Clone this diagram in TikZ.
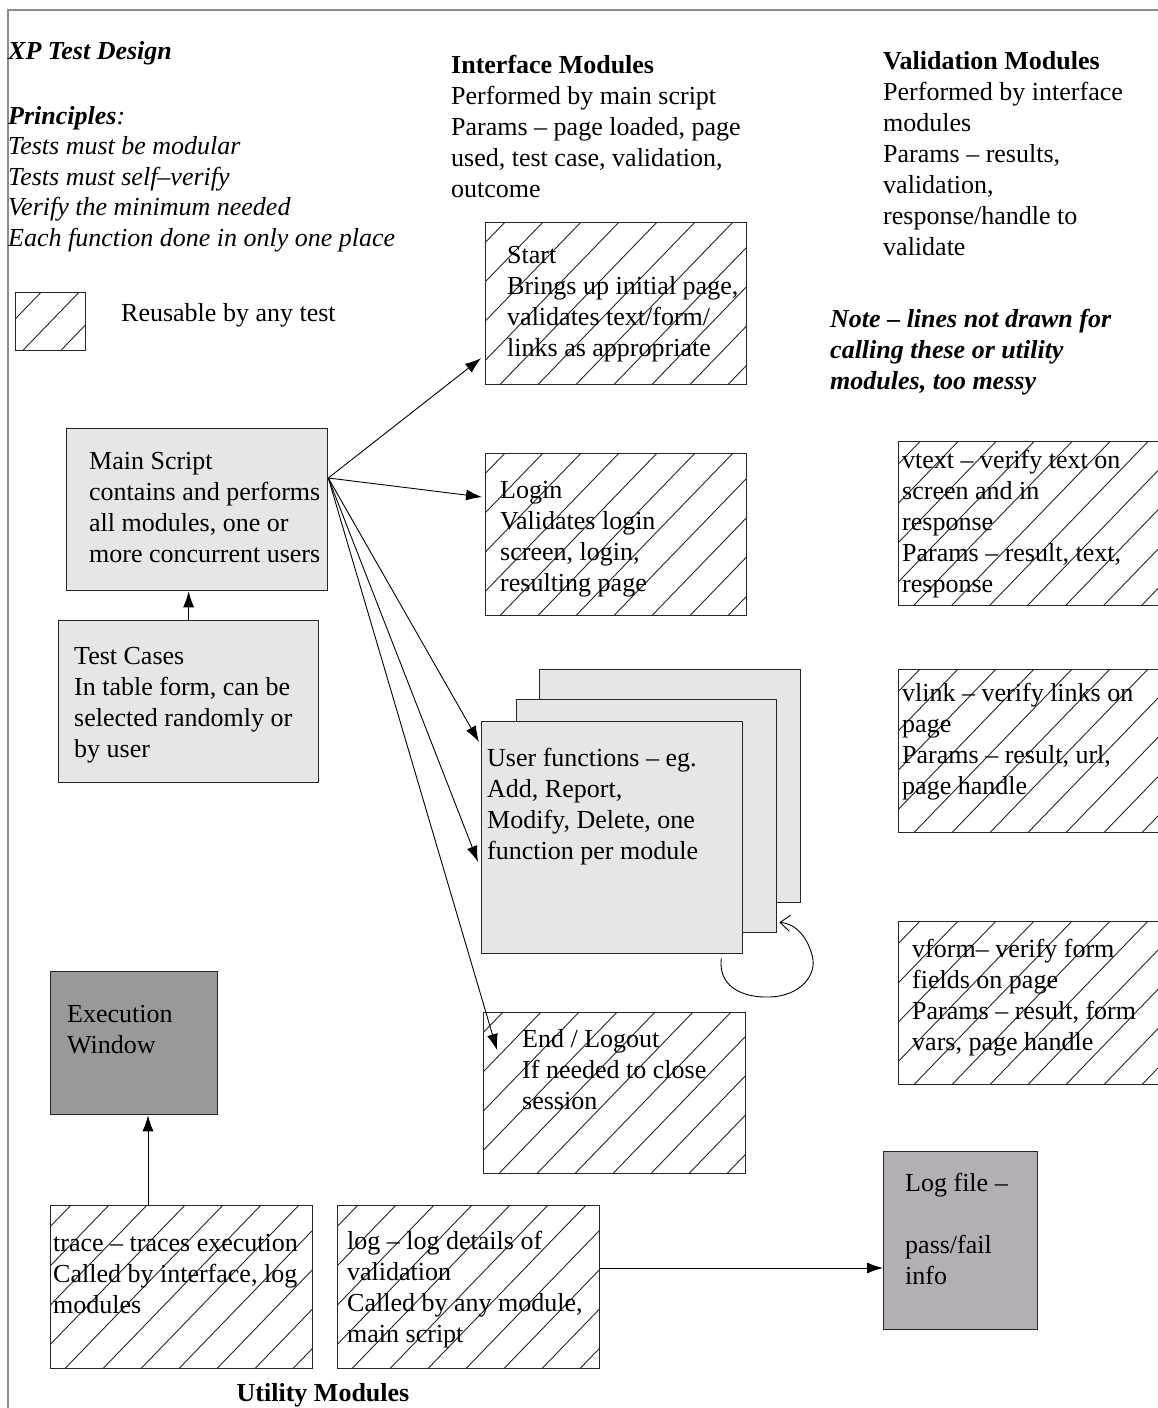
\documentclass[tikz,border=0pt]{standalone}
\usepackage{fontspec}
\setmainfont{Liberation Serif}
\usetikzlibrary{arrows.meta,calc}
\definecolor{lightfill}{HTML}{E6E6E6}
\definecolor{darkfill}{HTML}{999999}
\definecolor{logfill}{HTML}{B4AFB4}
\definecolor{frameline}{HTML}{8C8C8C}
\tikzset{
  basefont/.style={font=\fontsize{26}{31}\selectfont},
  txt/.style={anchor=north west, inner sep=0pt, align=left, font=\fontsize{26}{31}\selectfont, yshift=-2pt},
  boxs/.style={draw=black!85, line width=1.3pt, anchor=north west, inner sep=0pt, rectangle},
  hbox/.style={boxs, fill=white, path picture={
      \foreach \c in {-380,-342,...,2700}{\draw[line width=0.9pt, black!85] (\c+1450,-1500) -- (\c-1450,1500);}}},
  gbox/.style={boxs, fill=lightfill},
  dbox/.style={boxs, fill=darkfill},
  lbox/.style={boxs, fill=logfill},
  arr/.style={line width=0.9pt, -{Latex[length=16pt,width=11pt]}},
}
\begin{document}
\begin{tikzpicture}[x=1pt,y=-1pt]
\useasboundingbox (0,0) rectangle (1157,1408);
\fill[white] (0,0) rectangle (1157,1408);
\draw[frameline, line width=1.5pt] (8,1410) -- (8,10) -- (1160,10);

% header texts
\node[txt] (title) at (8,39) {\textbf{\textit{XP Test Design}}};
\node[txt, font=\fontsize{26}{30.5}\selectfont\itshape] (princ) at (8,104)
  {\textbf{Principles}:\\Tests must be modular\\Tests must self–verify\\Verify the minimum needed\\Each function done in only one place};
\node[boxs, hbox, minimum width=70, minimum height=58] (legend) at (15,292) {};
\node[txt] (legendT) at (121,301) {Reusable by any test};

\node[txt] (ifh) at (451,53) {\textbf{Interface Modules}\\Performed by main script\\Params – page loaded, page\\used, test case, validation,\\outcome};
\node[txt] (vh) at (883,49) {\textbf{Validation Modules}\\Performed by interface\\modules\\Params – results,\\validation,\\response/handle to\\validate};
\node[txt, font=\fontsize{26}{31}\selectfont\bfseries\itshape] (note) at (830,307) {Note – lines not drawn for\\calling these or utility\\modules, too messy};

% interface modules
\node[hbox, minimum width=261, minimum height=162] (start) at (485,222) {};
\node[txt] (startT) at (507,244) {Start\\Brings up initial page,\\validates text/form/\\links as appropriate};
\node[hbox, minimum width=261, minimum height=162] (login) at (485,453) {};
\node[txt] (loginT) at (500,479) {Login\\Validates login\\screen, login,\\resulting page};
\node[gbox, minimum width=261, minimum height=233] (uf3) at (539,669) {};
\node[gbox, minimum width=260, minimum height=233] (uf2) at (516,699) {};
\node[gbox, minimum width=261, minimum height=232] (uf1) at (481,721) {};
\node[txt] (ufT) at (487,746) {User functions – eg.\\Add, Report,\\Modify, Delete, one\\function per module};
\node[hbox, minimum width=262, minimum height=161] (endl) at (483,1012) {};
\node[txt] (endT) at (522,1027) {End / Logout\\If needed to close\\session};

% main script and test cases
\node[gbox, minimum width=261, minimum height=162] (main) at (66,428) {};
\node[txt] (mainT) at (89,450) {Main Script\\contains and performs\\all modules, one or\\more concurrent users};
\node[gbox, minimum width=260, minimum height=162] (tests) at (58,620) {};
\node[txt] (testsT) at (74,645) {Test Cases\\In table form, can be\\selected randomly or\\by user};

% execution window and utilities
\node[dbox, minimum width=167, minimum height=143] (exec) at (50,971) {};
\node[txt] (execT) at (67,1003) {Execution\\Window};
\node[hbox, minimum width=262, minimum height=163] (trace) at (50,1205) {};
\node[txt] (traceT) at (53,1232) {trace – traces execution\\Called by interface, log\\modules};
\node[hbox, minimum width=262, minimum height=163] (logm) at (337,1205) {};
\node[txt] (logmT) at (347,1229) {log – log details of\\validation\\Called by any module,\\main script};
\node[lbox, minimum width=154, minimum height=178] (logfile) at (883,1151) {};
\node[txt] (logfileT) at (905,1171) {Log file –\\[31pt]pass/fail\\info};
\node[basefont, font=\fontsize{26}{31}\selectfont\bfseries, anchor=center, inner sep=0pt] (util) at (323,1395) {Utility Modules};

% validation modules
\node[hbox, minimum width=264, minimum height=164] (vtext) at (898,441) {};
\node[txt] (vtextT) at (902,448) {vtext – verify text on\\screen and in\\response\\Params – result, text,\\response};
\node[hbox, minimum width=264, minimum height=163] (vlink) at (898,669) {};
\node[txt] (vlinkT) at (902,681) {vlink – verify links on\\page\\Params – result, url,\\page handle};
\node[hbox, minimum width=264, minimum height=163] (vform) at (898,921) {};
\node[txt] (vformT) at (912,937) {vform– verify form\\fields on page\\Params – result, form\\vars, page handle};

% connectors
\coordinate (msout) at ($(main.north east)+(0,50)$);
\coordinate (tStart) at ($(start.south west)+(-4,-27)$);
\coordinate (tLogin) at ($(login.north west)+(-3,44)$);
\coordinate (tUf1) at ($(uf1.north west)+(-2,21)$);
\coordinate (tUf2) at ($(uf1.north west)+(-3,141)$);
\coordinate (tEnd) at ($(endl.north west)+(14,38)$);
\draw[arr] (msout) -- (tStart);
\draw[arr] (msout) -- (tLogin);
\draw[arr] (msout) -- (tUf1);
\draw[arr] (msout) -- (tUf2);
\draw[arr] (msout) -- (tEnd);
\draw[arr] (tests.north) -- (tests.north |- main.south);
\coordinate (trOut) at ($(trace.north west)+(98,0)$);
\draw[arr] (trOut) -- (trOut |- exec.south);
\coordinate (lgOut) at ($(logm.north east)+(0,63)$);
\draw[arr] (lgOut) -- (lgOut -| logfile.west);
\coordinate (loopS) at ($(uf1.south east)+(-22,4)$);
\coordinate (loopE) at ($(uf2.south east)+(2,-11)$);
\draw[line width=0.9pt, -{Straight Barb[length=10pt,width=16pt]}] (loopS) .. controls (718,985) and (740,998) .. (770,997) .. controls (800,996) and (818,975) .. (812,955) .. controls (808,940) and (798,924) .. (loopE);
\end{tikzpicture}
\end{document}
